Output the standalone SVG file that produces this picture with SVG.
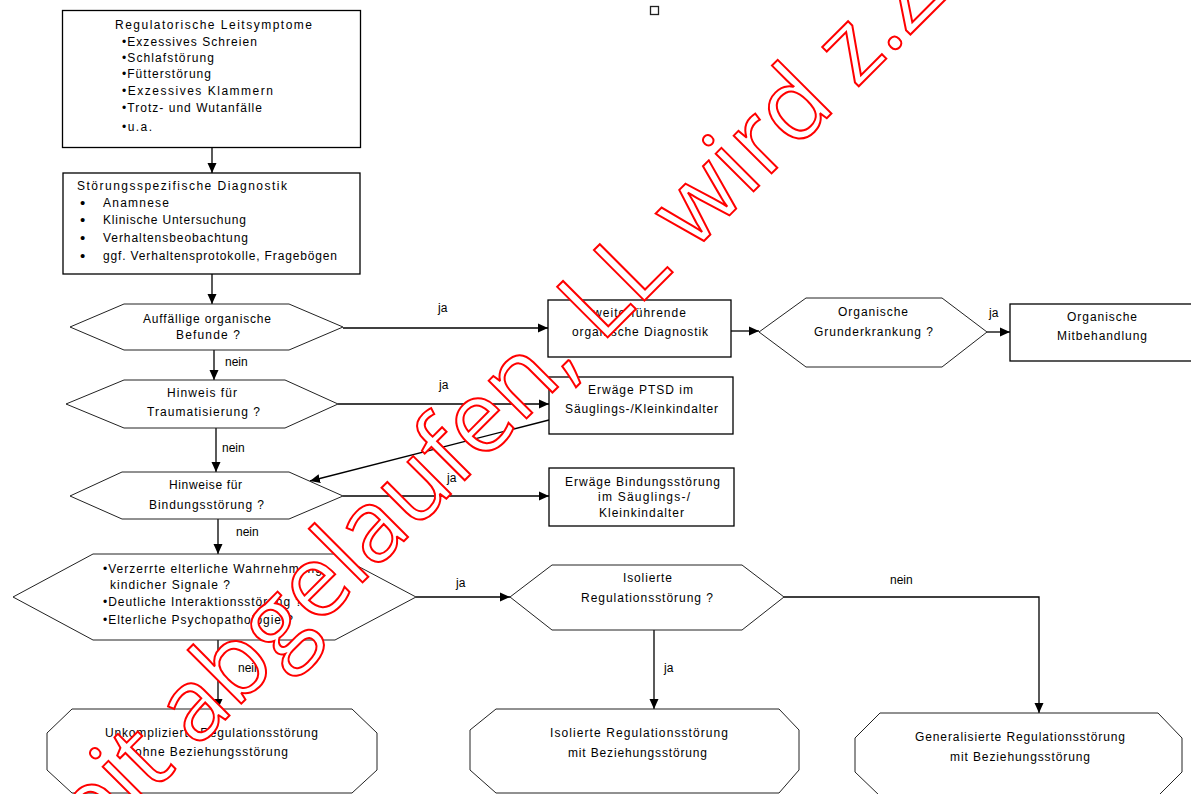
<svg xmlns="http://www.w3.org/2000/svg" width="1191" height="794" viewBox="0 0 1191 794">
<defs>
<marker id="ah" markerUnits="userSpaceOnUse" markerWidth="11" markerHeight="10" refX="10" refY="5" orient="auto">
<path d="M0,0.5 L10,5 L0,9.5 z" fill="#000"/>
</marker>
<style>
.box{fill:#fff;stroke:#000;stroke-width:1.3}
.hex{fill:#fff;stroke:#222;stroke-width:1}
.con{fill:none;stroke:#000;stroke-width:1.3}
.t{font-family:"Liberation Sans",Arial,sans-serif;font-size:12px;fill:#000}
.bul{font-family:"Liberation Sans",Arial,sans-serif;font-size:15px;fill:#000}
.lbl{font-family:"Liberation Sans",Arial,sans-serif;font-size:12px;fill:#000}
.wm{font-family:"Open Sans",sans-serif;font-size:100px;fill:#fff;stroke:#f00;stroke-width:2}
</style>
</defs>
<rect width="1191" height="794" fill="#fff"/>

<g id="connectors">
<line class="con" x1="212" y1="147" x2="212" y2="173" marker-end="url(#ah)"/>
<line class="con" x1="212" y1="274" x2="212" y2="304" marker-end="url(#ah)"/>
<line class="con" x1="214" y1="350" x2="214" y2="380" marker-end="url(#ah)"/>
<line class="con" x1="216" y1="428" x2="216" y2="472" marker-end="url(#ah)"/>
<line class="con" x1="218" y1="519" x2="218" y2="554" marker-end="url(#ah)"/>
<line class="con" x1="218" y1="640" x2="218" y2="709" marker-end="url(#ah)"/>
<line class="con" x1="343" y1="328" x2="548" y2="328" marker-end="url(#ah)"/>
<line class="con" x1="338" y1="404" x2="549" y2="404" marker-end="url(#ah)"/>
<line class="con" x1="549" y1="420" x2="310" y2="481" marker-end="url(#ah)"/>
<line class="con" x1="343" y1="496" x2="549" y2="496" marker-end="url(#ah)"/>
<line class="con" x1="416" y1="597" x2="510" y2="597" marker-end="url(#ah)"/>
<line class="con" x1="654" y1="630" x2="654" y2="709" marker-end="url(#ah)"/>
<polyline class="con" points="784,597 1039,597 1039,713" marker-end="url(#ah)"/>
<line class="con" x1="731" y1="331" x2="759" y2="331" marker-end="url(#ah)"/>
<line class="con" x1="987" y1="332" x2="1010" y2="332" marker-end="url(#ah)"/>
<text class="lbl" x="438" y="312">ja</text>
<text class="lbl" x="225" y="366">nein</text>
<text class="lbl" x="439" y="389">ja</text>
<text class="lbl" x="222" y="452">nein</text>
<text class="lbl" x="447" y="482">ja</text>
<text class="lbl" x="236" y="536">nein</text>
<text class="lbl" x="456" y="587">ja</text>
<text class="lbl" x="238" y="672">nein</text>
<text class="lbl" x="664" y="672">ja</text>
<text class="lbl" x="890" y="584">nein</text>
<text class="lbl" x="989" y="317">ja</text>
</g>

<g id="leitsymptome">
<rect class="box" x="62.5" y="10.5" width="298" height="137"/>
<text class="t" x="115" y="29" textLength="197" lengthAdjust="spacing">Regulatorische Leitsymptome</text>
<text class="t" x="122" y="46" textLength="135" lengthAdjust="spacing">•Exzessives Schreien</text>
<text class="t" x="122" y="62" textLength="92" lengthAdjust="spacing">•Schlafstörung</text>
<text class="t" x="122" y="78" textLength="89" lengthAdjust="spacing">•Fütterstörung</text>
<text class="t" x="122" y="95" textLength="151" lengthAdjust="spacing">•Exzessives Klammern</text>
<text class="t" x="122" y="112" textLength="140" lengthAdjust="spacing">•Trotz- und Wutanfälle</text>
<text class="t" x="122" y="131" textLength="30" lengthAdjust="spacing">•u.a.</text>
</g>

<g id="diagnostik">
<rect class="box" x="63" y="173" width="297" height="101"/>
<text class="t" x="77" y="190" textLength="210" lengthAdjust="spacing">Störungsspezifische Diagnostik</text>
<text class="bul" x="80" y="208">•</text>
<text class="t" x="103" y="207" textLength="66" lengthAdjust="spacing">Anamnese</text>
<text class="bul" x="80" y="225">•</text>
<text class="t" x="103" y="224" textLength="143" lengthAdjust="spacing">Klinische Untersuchung</text>
<text class="bul" x="80" y="243">•</text>
<text class="t" x="103" y="242" textLength="145" lengthAdjust="spacing">Verhaltensbeobachtung</text>
<text class="bul" x="80" y="261">•</text>
<text class="t" x="103" y="260" textLength="234" lengthAdjust="spacing">ggf. Verhaltensprotokolle, Fragebögen</text>
</g>

<g id="organisch">
<polygon class="hex" points="70,327 124,304 289,304 343,327 289,350 124,350"/>
<text class="t" x="143" y="323" textLength="128" lengthAdjust="spacing">Auffällige organische</text>
<text class="t" x="176" y="339" textLength="64" lengthAdjust="spacing">Befunde ?</text>
</g>

<g id="trauma">
<polygon class="hex" points="66,404 124,380 285,380 338,404 285,428 124,428"/>
<text class="t" x="167" y="397" textLength="70" lengthAdjust="spacing">Hinweis für</text>
<text class="t" x="147" y="416" textLength="113" lengthAdjust="spacing">Traumatisierung ?</text>
</g>

<g id="bindung">
<polygon class="hex" points="70,496 122,472 289,472 343,496 289,519 122,519"/>
<text class="t" x="169" y="489" textLength="73" lengthAdjust="spacing">Hinweise für</text>
<text class="t" x="149" y="509" textLength="115" lengthAdjust="spacing">Bindungsstörung ?</text>
</g>

<g id="beziehung">
<polygon class="hex" points="13,597 93,554 335,554 416,597 335,640 93,640"/>
<text class="t" x="103" y="573" textLength="219" lengthAdjust="spacing">•Verzerrte elterliche Wahrnehmung</text>
<text class="t" x="110" y="589" textLength="120" lengthAdjust="spacing">kindicher Signale ?</text>
<text class="t" x="103" y="606" textLength="199" lengthAdjust="spacing">•Deutliche Interaktionsstörung ?</text>
<text class="t" x="103" y="624" textLength="190" lengthAdjust="spacing">•Elterliche Psychopathologie ?</text>
</g>

<g id="isoliert-frage">
<polygon class="hex" points="510,597 552,565 742,565 784,597 742,630 552,630"/>
<text class="t" x="623" y="582" textLength="49" lengthAdjust="spacing">Isolierte</text>
<text class="t" x="581" y="602" textLength="132" lengthAdjust="spacing">Regulationsstörung ?</text>
</g>

<g id="weiterfuehrend">
<rect class="box" x="548" y="300" width="183" height="57"/>
<text class="t" x="593" y="317" textLength="93" lengthAdjust="spacing">weiterführende</text>
<text class="t" x="572" y="336" textLength="136" lengthAdjust="spacing">organische Diagnostik</text>
</g>

<g id="ptsd">
<rect class="box" x="549" y="377" width="184" height="57"/>
<text class="t" x="588" y="394" textLength="105" lengthAdjust="spacing">Erwäge PTSD im</text>
<text class="t" x="565" y="413" textLength="153" lengthAdjust="spacing">Säuglings-/Kleinkindalter</text>
</g>

<g id="bindungsstoerung">
<rect class="box" x="549" y="468" width="185" height="58"/>
<text class="t" x="565" y="486" textLength="155" lengthAdjust="spacing">Erwäge Bindungsstörung</text>
<text class="t" x="598" y="501" textLength="92" lengthAdjust="spacing">im Säuglings-/</text>
<text class="t" x="599" y="517" textLength="85" lengthAdjust="spacing">Kleinkindalter</text>
</g>

<g id="grunderkrankung">
<polygon class="hex" points="759,332 806,298 942,298 987,332 942,367 806,367"/>
<text class="t" x="838" y="316" textLength="70" lengthAdjust="spacing">Organische</text>
<text class="t" x="814" y="336" textLength="119" lengthAdjust="spacing">Grunderkrankung ?</text>
</g>

<g id="mitbehandlung">
<rect class="box" x="1010" y="304" width="190" height="57"/>
<text class="t" x="1067" y="321" textLength="70" lengthAdjust="spacing">Organische</text>
<text class="t" x="1057" y="340" textLength="90" lengthAdjust="spacing">Mitbehandlung</text>
</g>

<g id="unkompliziert">
<polygon class="hex" points="72,709 352,709 377,733 377,770 352,793 72,793 47,770 47,733"/>
<text class="t" x="105" y="737" textLength="213" lengthAdjust="spacing">Unkomplizierte Regulationsstörung</text>
<text class="t" x="135" y="756" textLength="153" lengthAdjust="spacing">ohne Beziehungsstörung</text>
</g>

<g id="isoliert">
<polygon class="hex" points="496,709 779,709 799,730 799,770 779,793 496,793 470,770 470,730"/>
<text class="t" x="550" y="737" textLength="178" lengthAdjust="spacing">Isolierte Regulationsstörung</text>
<text class="t" x="568" y="757" textLength="139" lengthAdjust="spacing">mit Beziehungsstörung</text>
</g>

<g id="generalisiert">
<polygon class="hex" points="880,713 1158,713 1182,738 1182,772 1158,796 880,796 855,772 855,738"/>
<text class="t" x="915" y="741" textLength="210" lengthAdjust="spacing">Generalisierte Regulationsstörung</text>
<text class="t" x="950" y="761" textLength="140" lengthAdjust="spacing">mit Beziehungsstörung</text>
</g>

<rect x="650.5" y="6.5" width="8" height="8" fill="#fff" stroke="#222" stroke-width="1.3"/>

<text class="wm" transform="rotate(-45 607 338)"><tspan x="572" y="338" text-anchor="end">Gültigkeit abgelaufen,</tspan><tspan x="598" y="338">LL wird z.Z. überprüft</tspan></text>
</svg>
